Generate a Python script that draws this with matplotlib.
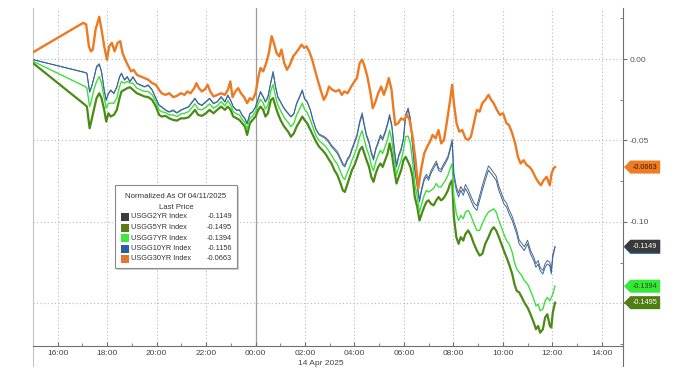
import matplotlib
matplotlib.use("Agg")
import matplotlib.pyplot as plt
from matplotlib.patches import Polygon, Rectangle

plt.rcParams["font.family"] = ["Liberation Sans", "DejaVu Sans"]
plt.rcParams["axes.unicode_minus"] = False

# time axis: hours relative to 14 Apr 2025 00:00 (weekend gap drawn as a straight line)
hours = [
    -9.00, -6.89, -6.82, -6.71, -6.63, -6.54, -6.43, -6.32, -6.23, -6.12,
    -6.04, -5.95, -5.86, -5.73, -5.61, -5.50, -5.42, -5.30, -5.19, -5.08,
    -4.96, -4.80, -4.65, -4.49, -4.34, -4.18, -4.03, -3.90, -3.80, -3.64,
    -3.49, -3.33, -3.18, -3.02, -2.87, -2.71, -2.56, -2.45, -2.32, -2.17,
    -2.01, -1.86, -1.70, -1.55, -1.39, -1.24, -1.12, -1.01, -0.90, -0.77,
    -0.65, -0.54, -0.43, -0.34, -0.23, -0.12, 0.00, 0.11, 0.20, 0.31,
    0.40, 0.50, 0.62, 0.71, 0.81, 0.90, 1.01, 1.12, 1.21, 1.32,
    1.43, 1.55, 1.66, 1.78, 1.89, 1.98, 2.09, 2.22, 2.32, 2.45,
    2.57, 2.70, 2.82, 2.94, 3.07, 3.19, 3.31, 3.44, 3.53, 3.61,
    3.72, 3.81, 3.90, 4.00, 4.10, 4.21, 4.31, 4.40, 4.49, 4.59,
    4.68, 4.77, 4.86, 4.96, 5.05, 5.14, 5.24, 5.34, 5.42, 5.51,
    5.61, 5.70, 5.79, 5.89, 5.98, 6.07, 6.17, 6.26, 6.35, 6.44,
    6.54, 6.63, 6.72, 6.82, 6.91, 7.00, 7.09, 7.20, 7.31, 7.40,
    7.50, 7.59, 7.68, 7.78, 7.87, 7.95, 8.02, 8.12, 8.21, 8.30,
    8.40, 8.49, 8.60, 8.71, 8.83, 8.95, 9.06, 9.17, 9.29, 9.42,
    9.53, 9.63, 9.73, 9.84, 9.94, 10.04, 10.15, 10.25, 10.38, 10.47,
    10.56, 10.66, 10.77, 10.87, 11.00, 11.12, 11.25, 11.34, 11.43, 11.51,
    11.62, 11.71, 11.80, 11.90, 11.96, 12.02, 12.11,
]

usgg2 = [
    -0.0004, -0.0084, -0.0090, -0.0205, -0.0172, -0.0121, -0.0052, -0.0035, -0.0080, -0.0193,
    -0.0255, -0.0214, -0.0195, -0.0212, -0.0175, -0.0112, -0.0092, -0.0130, -0.0112, -0.0140,
    -0.0113, -0.0150, -0.0162, -0.0172, -0.0163, -0.0192, -0.0244, -0.0285, -0.0296, -0.0315,
    -0.0326, -0.0318, -0.0332, -0.0316, -0.0305, -0.0296, -0.0266, -0.0245, -0.0274, -0.0286,
    -0.0265, -0.0245, -0.0275, -0.0264, -0.0236, -0.0265, -0.0226, -0.0255, -0.0296, -0.0316,
    -0.0315, -0.0346, -0.0368, -0.0400, -0.0338, -0.0326, -0.0296, -0.0245, -0.0205, -0.0234,
    -0.0265, -0.0236, -0.0145, -0.0085, -0.0175, -0.0236, -0.0265, -0.0296, -0.0316, -0.0336,
    -0.0356, -0.0338, -0.0276, -0.0236, -0.0195, -0.0245, -0.0266, -0.0316, -0.0376, -0.0432,
    -0.0460, -0.0470, -0.0480, -0.0498, -0.0528, -0.0548, -0.0568, -0.0610, -0.0640, -0.0652,
    -0.0610, -0.0590, -0.0548, -0.0506, -0.0465, -0.0382, -0.0330, -0.0402, -0.0465, -0.0506,
    -0.0568, -0.0608, -0.0548, -0.0506, -0.0465, -0.0486, -0.0444, -0.0392, -0.0340, -0.0402,
    -0.0546, -0.0650, -0.0588, -0.0546, -0.0484, -0.0340, -0.0300, -0.0362, -0.0525, -0.0668,
    -0.0772, -0.0862, -0.0792, -0.0730, -0.0708, -0.0730, -0.0688, -0.0656, -0.0626, -0.0668,
    -0.0678, -0.0648, -0.0626, -0.0596, -0.0545, -0.0494, -0.0700, -0.0782, -0.0822, -0.0782,
    -0.0812, -0.0770, -0.0800, -0.0842, -0.0882, -0.0902, -0.0840, -0.0778, -0.0716, -0.0656,
    -0.0676, -0.0698, -0.0718, -0.0780, -0.0822, -0.0862, -0.0884, -0.0924, -0.0966, -0.1008,
    -0.1050, -0.1110, -0.1132, -0.1152, -0.1112, -0.1174, -0.1215, -0.1256, -0.1236, -0.1278,
    -0.1298, -0.1256, -0.1236, -0.1246, -0.1298, -0.1200, -0.1149,
]

usgg5 = [
    -0.0025, -0.0282, -0.0292, -0.0425, -0.0374, -0.0312, -0.0240, -0.0210, -0.0240, -0.0312,
    -0.0384, -0.0333, -0.0353, -0.0343, -0.0312, -0.0240, -0.0199, -0.0189, -0.0179, -0.0173,
    -0.0189, -0.0210, -0.0220, -0.0230, -0.0234, -0.0251, -0.0292, -0.0343, -0.0353, -0.0349,
    -0.0364, -0.0374, -0.0378, -0.0364, -0.0364, -0.0358, -0.0333, -0.0312, -0.0343, -0.0349,
    -0.0333, -0.0312, -0.0333, -0.0312, -0.0292, -0.0312, -0.0292, -0.0312, -0.0353, -0.0364,
    -0.0374, -0.0395, -0.0415, -0.0466, -0.0395, -0.0374, -0.0353, -0.0312, -0.0292, -0.0312,
    -0.0353, -0.0333, -0.0251, -0.0240, -0.0292, -0.0333, -0.0374, -0.0405, -0.0425, -0.0446,
    -0.0477, -0.0456, -0.0415, -0.0384, -0.0353, -0.0374, -0.0395, -0.0436, -0.0466, -0.0508,
    -0.0538, -0.0559, -0.0580, -0.0610, -0.0641, -0.0682, -0.0713, -0.0764, -0.0806, -0.0816,
    -0.0764, -0.0723, -0.0682, -0.0651, -0.0610, -0.0559, -0.0538, -0.0580, -0.0621, -0.0662,
    -0.0723, -0.0754, -0.0703, -0.0662, -0.0641, -0.0662, -0.0621, -0.0580, -0.0518, -0.0580,
    -0.0682, -0.0764, -0.0723, -0.0682, -0.0621, -0.0600, -0.0631, -0.0662, -0.0723, -0.0847,
    -0.0908, -0.0991, -0.0949, -0.0908, -0.0877, -0.0867, -0.0888, -0.0898, -0.0867, -0.0847,
    -0.0867, -0.0857, -0.0836, -0.0806, -0.0764, -0.0744, -0.0970, -0.1093, -0.1134, -0.1093,
    -0.1114, -0.1073, -0.1052, -0.1083, -0.1134, -0.1175, -0.1206, -0.1196, -0.1134, -0.1093,
    -0.1052, -0.1032, -0.1052, -0.1093, -0.1134, -0.1175, -0.1217, -0.1258, -0.1319, -0.1381,
    -0.1422, -0.1432, -0.1463, -0.1494, -0.1525, -0.1566, -0.1617, -0.1658, -0.1638, -0.1679,
    -0.1658, -0.1586, -0.1566, -0.1638, -0.1648, -0.1556, -0.1495,
]

usgg7 = [
    -0.0014, -0.0169, -0.0179, -0.0292, -0.0251, -0.0189, -0.0138, -0.0107, -0.0148, -0.0240,
    -0.0302, -0.0271, -0.0271, -0.0271, -0.0240, -0.0169, -0.0138, -0.0148, -0.0138, -0.0148,
    -0.0148, -0.0179, -0.0189, -0.0199, -0.0199, -0.0220, -0.0261, -0.0312, -0.0323, -0.0329,
    -0.0343, -0.0343, -0.0353, -0.0337, -0.0333, -0.0323, -0.0296, -0.0275, -0.0308, -0.0312,
    -0.0296, -0.0275, -0.0302, -0.0288, -0.0261, -0.0288, -0.0255, -0.0282, -0.0323, -0.0337,
    -0.0343, -0.0370, -0.0390, -0.0432, -0.0364, -0.0349, -0.0323, -0.0275, -0.0247, -0.0271,
    -0.0308, -0.0282, -0.0193, -0.0158, -0.0230, -0.0282, -0.0316, -0.0349, -0.0370, -0.0390,
    -0.0415, -0.0395, -0.0343, -0.0308, -0.0271, -0.0308, -0.0329, -0.0374, -0.0419, -0.0473,
    -0.0501, -0.0518, -0.0534, -0.0559, -0.0590, -0.0621, -0.0645, -0.0693, -0.0727, -0.0740,
    -0.0693, -0.0662, -0.0621, -0.0584, -0.0543, -0.0477, -0.0440, -0.0497, -0.0549, -0.0590,
    -0.0651, -0.0686, -0.0631, -0.0590, -0.0559, -0.0580, -0.0538, -0.0493, -0.0436, -0.0497,
    -0.0621, -0.0713, -0.0662, -0.0621, -0.0559, -0.0477, -0.0473, -0.0518, -0.0631, -0.0764,
    -0.0847, -0.0939, -0.0888, -0.0836, -0.0806, -0.0816, -0.0806, -0.0795, -0.0764, -0.0785,
    -0.0785, -0.0764, -0.0744, -0.0713, -0.0672, -0.0641, -0.0847, -0.0949, -0.0991, -0.0960,
    -0.0980, -0.0939, -0.0929, -0.0960, -0.1011, -0.1052, -0.1052, -0.1011, -0.0970, -0.0939,
    -0.0929, -0.0919, -0.0939, -0.0991, -0.1032, -0.1073, -0.1114, -0.1134, -0.1186, -0.1247,
    -0.1288, -0.1309, -0.1330, -0.1360, -0.1381, -0.1422, -0.1473, -0.1515, -0.1504, -0.1545,
    -0.1535, -0.1484, -0.1463, -0.1484, -0.1463, -0.1443, -0.1394,
]

usgg10 = [
    -0.0004, -0.0082, -0.0086, -0.0199, -0.0169, -0.0117, -0.0045, -0.0029, -0.0076, -0.0189,
    -0.0251, -0.0210, -0.0189, -0.0210, -0.0169, -0.0107, -0.0086, -0.0127, -0.0107, -0.0138,
    -0.0107, -0.0148, -0.0158, -0.0169, -0.0158, -0.0189, -0.0240, -0.0282, -0.0292, -0.0312,
    -0.0323, -0.0312, -0.0329, -0.0312, -0.0302, -0.0292, -0.0261, -0.0240, -0.0271, -0.0282,
    -0.0261, -0.0240, -0.0271, -0.0261, -0.0230, -0.0261, -0.0220, -0.0251, -0.0292, -0.0312,
    -0.0312, -0.0343, -0.0364, -0.0395, -0.0333, -0.0323, -0.0292, -0.0240, -0.0199, -0.0230,
    -0.0261, -0.0230, -0.0138, -0.0076, -0.0169, -0.0230, -0.0261, -0.0292, -0.0312, -0.0333,
    -0.0353, -0.0333, -0.0271, -0.0230, -0.0189, -0.0240, -0.0261, -0.0312, -0.0374, -0.0436,
    -0.0466, -0.0477, -0.0487, -0.0508, -0.0538, -0.0559, -0.0580, -0.0621, -0.0651, -0.0662,
    -0.0621, -0.0600, -0.0559, -0.0518, -0.0477, -0.0395, -0.0343, -0.0415, -0.0477, -0.0518,
    -0.0580, -0.0621, -0.0559, -0.0518, -0.0477, -0.0497, -0.0456, -0.0405, -0.0353, -0.0415,
    -0.0559, -0.0662, -0.0600, -0.0559, -0.0497, -0.0353, -0.0312, -0.0374, -0.0538, -0.0682,
    -0.0785, -0.0877, -0.0806, -0.0744, -0.0723, -0.0744, -0.0703, -0.0672, -0.0641, -0.0682,
    -0.0693, -0.0662, -0.0641, -0.0610, -0.0559, -0.0508, -0.0723, -0.0806, -0.0847, -0.0806,
    -0.0836, -0.0795, -0.0826, -0.0867, -0.0908, -0.0929, -0.0867, -0.0806, -0.0744, -0.0682,
    -0.0703, -0.0723, -0.0744, -0.0806, -0.0847, -0.0888, -0.0908, -0.0949, -0.0991, -0.1032,
    -0.1073, -0.1134, -0.1155, -0.1175, -0.1134, -0.1196, -0.1237, -0.1278, -0.1258, -0.1299,
    -0.1319, -0.1278, -0.1258, -0.1268, -0.1319, -0.1217, -0.1156,
]

hours_30 = [
    -9.00, -6.97, -6.85, -6.74, -6.66, -6.58, -6.47, -6.32, -6.23, -6.12,
    -6.01, -5.92, -5.81, -5.70, -5.58, -5.47, -5.38, -5.27, -5.14, -5.03,
    -4.93, -4.80, -4.65, -4.49, -4.34, -4.18, -4.03, -3.90, -3.80, -3.64,
    -3.49, -3.33, -3.18, -3.02, -2.87, -2.76, -2.63, -2.48, -2.39, -2.29,
    -2.17, -2.04, -1.94, -1.83, -1.70, -1.55, -1.39, -1.24, -1.12, -1.02,
    -0.93, -0.82, -0.70, -0.59, -0.46, -0.34, -0.23, -0.12, 0.00, 0.12,
    0.20, 0.31, 0.43, 0.54, 0.65, 0.74, 0.85, 0.96, 1.05, 1.16,
    1.27, 1.39, 1.52, 1.63, 1.73, 1.86, 1.97, 2.06, 2.17, 2.29,
    2.40, 2.51, 2.63, 2.76, 2.87, 2.97, 3.10, 3.25, 3.38, 3.49,
    3.59, 3.72, 3.87, 4.00, 4.10, 4.21, 4.31, 4.41, 4.52, 4.65,
    4.74, 4.83, 4.96, 5.08, 5.19, 5.30, 5.39, 5.50, 5.58, 5.65,
    5.76, 5.89, 6.01, 6.12, 6.23, 6.35, 6.47, 6.58, 6.69, 6.82,
    6.94, 7.05, 7.16, 7.28, 7.40, 7.51, 7.62, 7.75, 7.87, 7.95,
    8.02, 8.13, 8.24, 8.36, 8.49, 8.60, 8.71, 8.83, 8.95, 9.06,
    9.17, 9.29, 9.42, 9.53, 9.63, 9.76, 9.88, 10.01, 10.15, 10.25,
    10.38, 10.50, 10.61, 10.72, 10.84, 10.97, 11.08, 11.18, 11.31, 11.43,
    11.54, 11.65, 11.77, 11.90, 11.97, 12.05, 12.11,
]

usgg30 = [
    0.0041, 0.0222, 0.0212, 0.0078, 0.0047, 0.0058, 0.0181, 0.0259, 0.0181, 0.0078,
    -0.0004, 0.0078, 0.0099, 0.0047, 0.0099, 0.0109, 0.0037, -0.0004, -0.0045, -0.0076,
    -0.0066, -0.0097, -0.0107, -0.0117, -0.0127, -0.0148, -0.0158, -0.0189, -0.0210, -0.0220,
    -0.0210, -0.0234, -0.0226, -0.0210, -0.0220, -0.0199, -0.0210, -0.0179, -0.0148, -0.0179,
    -0.0199, -0.0185, -0.0158, -0.0199, -0.0230, -0.0220, -0.0210, -0.0220, -0.0189, -0.0138,
    -0.0234, -0.0199, -0.0179, -0.0210, -0.0234, -0.0271, -0.0240, -0.0251, -0.0210, -0.0107,
    -0.0055, -0.0076, -0.0025, 0.0037, 0.0140, 0.0099, 0.0037, 0.0016, 0.0058, -0.0025,
    -0.0066, -0.0035, 0.0016, 0.0037, 0.0058, 0.0088, 0.0068, 0.0078, 0.0047, -0.0004,
    -0.0066, -0.0127, -0.0189, -0.0251, -0.0220, -0.0169, -0.0189, -0.0199, -0.0189, -0.0220,
    -0.0199, -0.0210, -0.0169, -0.0138, -0.0117, -0.0025, -0.0004, -0.0045, -0.0107, -0.0210,
    -0.0302, -0.0271, -0.0210, -0.0169, -0.0220, -0.0169, -0.0117, -0.0189, -0.0312, -0.0405,
    -0.0395, -0.0364, -0.0374, -0.0343, -0.0374, -0.0477, -0.0621, -0.0795, -0.0682, -0.0580,
    -0.0538, -0.0508, -0.0466, -0.0487, -0.0436, -0.0518, -0.0497, -0.0374, -0.0251, -0.0158,
    -0.0271, -0.0395, -0.0446, -0.0436, -0.0487, -0.0497, -0.0477, -0.0395, -0.0312, -0.0323,
    -0.0271, -0.0251, -0.0220, -0.0251, -0.0271, -0.0312, -0.0343, -0.0333, -0.0395, -0.0405,
    -0.0456, -0.0518, -0.0600, -0.0641, -0.0621, -0.0651, -0.0662, -0.0682, -0.0723, -0.0754,
    -0.0775, -0.0744, -0.0723, -0.0775, -0.0703, -0.0672, -0.0663,
]

names = ["USGG2YR Index", "USGG5YR Index", "USGG7YR Index", "USGG10YR Index", "USGG30YR Index"]
last_values = [-0.1149, -0.1495, -0.1394, -0.1156, -0.0663]
line_colors = ["#5b6672", "#4b8a17", "#3ddf3d", "#2f67ab", "#ec7a22"]
swatch_colors = ["#3d3d3d", "#5a7a12", "#3ee83e", "#2a5fa0", "#e2762a"]
tag_colors = ["#3a3a3a", "#4f7f12", "#36e836", "#2f67ab", "#ef7b22"]
tag_text_colors = ["white", "white", "#1d4d1d", "white", "#3a1800"]

tick_hours = [-8, -6, -4, -2, 0, 2, 4, 6, 8, 10, 12, 14]
tick_labels = ["16:00", "18:00", "20:00", "22:00", "00:00", "02:00",
               "04:00", "06:00", "08:00", "10:00", "12:00", "14:00"]
y_ticks = [0.0, -0.05, -0.10, -0.15]
# the -0.15 label sits under the USGG5YR price tag in the original
y_labels = ["0.00", "-0.05", "-0.10", ""]

W, H = 685, 378


def fx(x):
    return x / W


def fy(y):
    return 1 - y / H


fig = plt.figure(figsize=(W / 100, H / 100), dpi=100)
ax = fig.add_axes([fx(33), fy(346), (623 - 33) / W, (346 - 8) / H])
ax.set_xlim(-9.0, 14.86)
ax.set_ylim(-0.1761, 0.0313)

# grid: dotted, with the day break as a solid line
for h in tick_hours:
    if h != 0:
        ax.axvline(h, color="#b8b8b8", lw=0.8, ls=(0, (1, 2.2)), zorder=1)
for v in y_ticks:
    ax.axhline(v, color="#b8b8b8", lw=0.8, ls=(0, (1, 2.2)), zorder=1)
ax.axvline(0, color="#9c9c9c", lw=0.9, zorder=1)

series = [usgg2, usgg5, usgg7, usgg10, usgg30]
widths = [0.7, 1.6, 1.0, 0.7, 1.7]
order = [1, 2, 0, 3, 4]
for i in order:
    xs = hours_30 if i == 4 else hours
    ax.plot(xs, series[i], color=line_colors[i], lw=widths[i], zorder=3 + i * 0.1)

ax.spines["top"].set_visible(False)
ax.spines["left"].set_color("#c4c4c4")
ax.spines["right"].set_color("#707070")
ax.spines["bottom"].set_color("#707070")
for s in ["left", "right", "bottom"]:
    ax.spines[s].set_linewidth(0.8)
# vertical axis lines run a little below the time axis
ax.plot([0, 0], [-0.058, 0], transform=ax.transAxes, color="#c4c4c4", lw=0.8, clip_on=False)
ax.plot([1, 1], [-0.058, 0], transform=ax.transAxes, color="#707070", lw=0.8, clip_on=False)

ax.set_xticks(tick_hours)
ax.set_xticklabels(tick_labels)
ax.set_xticks([h + 1 for h in tick_hours[:-1]], minor=True)
ax.tick_params(axis="x", which="major", direction="in", length=3, color="#707070",
               labelsize=6, labelcolor="#444444", pad=3)
ax.tick_params(axis="x", which="minor", direction="in", length=2, color="#707070")

ax.yaxis.tick_right()
ax.set_yticks(y_ticks)
ax.set_yticklabels(y_labels)
ax.set_yticks([0.025, -0.025, -0.075, -0.125, -0.175], minor=True)
ax.tick_params(axis="y", which="major", direction="out", length=3, color="#707070",
               labelsize=6, labelcolor="#555555", pad=1.5)
ax.tick_params(axis="y", which="minor", direction="in", length=2, color="#707070")

ax.text(1.7, -0.052, "14 Apr 2025", transform=ax.get_xaxis_transform(),
        ha="left", va="center", fontsize=6, color="#444444")

# last-price tags on the right axis (10YR first, the 2YR tag sits on top of it)
half = 0.0040
tag_order = [3, 0, 2, 1, 4]
tr = ax.get_yaxis_transform()
for k, i in enumerate(tag_order):
    v = last_values[i]
    poly = Polygon([(1.0017, v), (1.0125, v + half), (1.063, v + half),
                    (1.063, v - half), (1.0125, v - half)], closed=True,
                   transform=tr, clip_on=False, facecolor=tag_colors[i],
                   edgecolor="none", zorder=6 + 2 * k)
    ax.add_patch(poly)
    ax.text(1.0375, v, f"{v:.4f}", transform=tr, ha="center", va="center",
            fontsize=5.2, color=tag_text_colors[i], zorder=7 + 2 * k, clip_on=False)

# legend box
shadow = Rectangle((fx(117), fy(270)), fx(122), (270 - 187) / H, transform=fig.transFigure,
                   facecolor="#d0d0d0", edgecolor="none", zorder=20)
box = Rectangle((fx(115), fy(268)), fx(122), (268 - 185) / H, transform=fig.transFigure,
                facecolor="white", edgecolor="#8a8a8a", lw=0.8, zorder=21)
fig.add_artist(shadow)
fig.add_artist(box)
fig.text(fx(176), fy(196), "Normalized As Of 04/11/2025", ha="center", va="center",
         fontsize=5.6, color="#333333", zorder=22)
fig.text(fx(176), fy(207), "Last Price", ha="center", va="center",
         fontsize=5.6, color="#333333", zorder=22)
for k, (name, val) in enumerate(zip(names, last_values)):
    yc = 217 + k * 10.5
    sw = Rectangle((fx(121), fy(yc + 4)), fx(8), 8 / H, transform=fig.transFigure,
                   facecolor=swatch_colors[k], edgecolor="none", zorder=22)
    fig.add_artist(sw)
    fig.text(fx(131), fy(yc), name, ha="left", va="center", fontsize=5.3,
             color="#333333", zorder=22)
    fig.text(fx(232), fy(yc), f"{val:.4f}", ha="right", va="center", fontsize=5.3,
             color="#333333", zorder=22)

fig.savefig("out.png", dpi=100, facecolor="white")
